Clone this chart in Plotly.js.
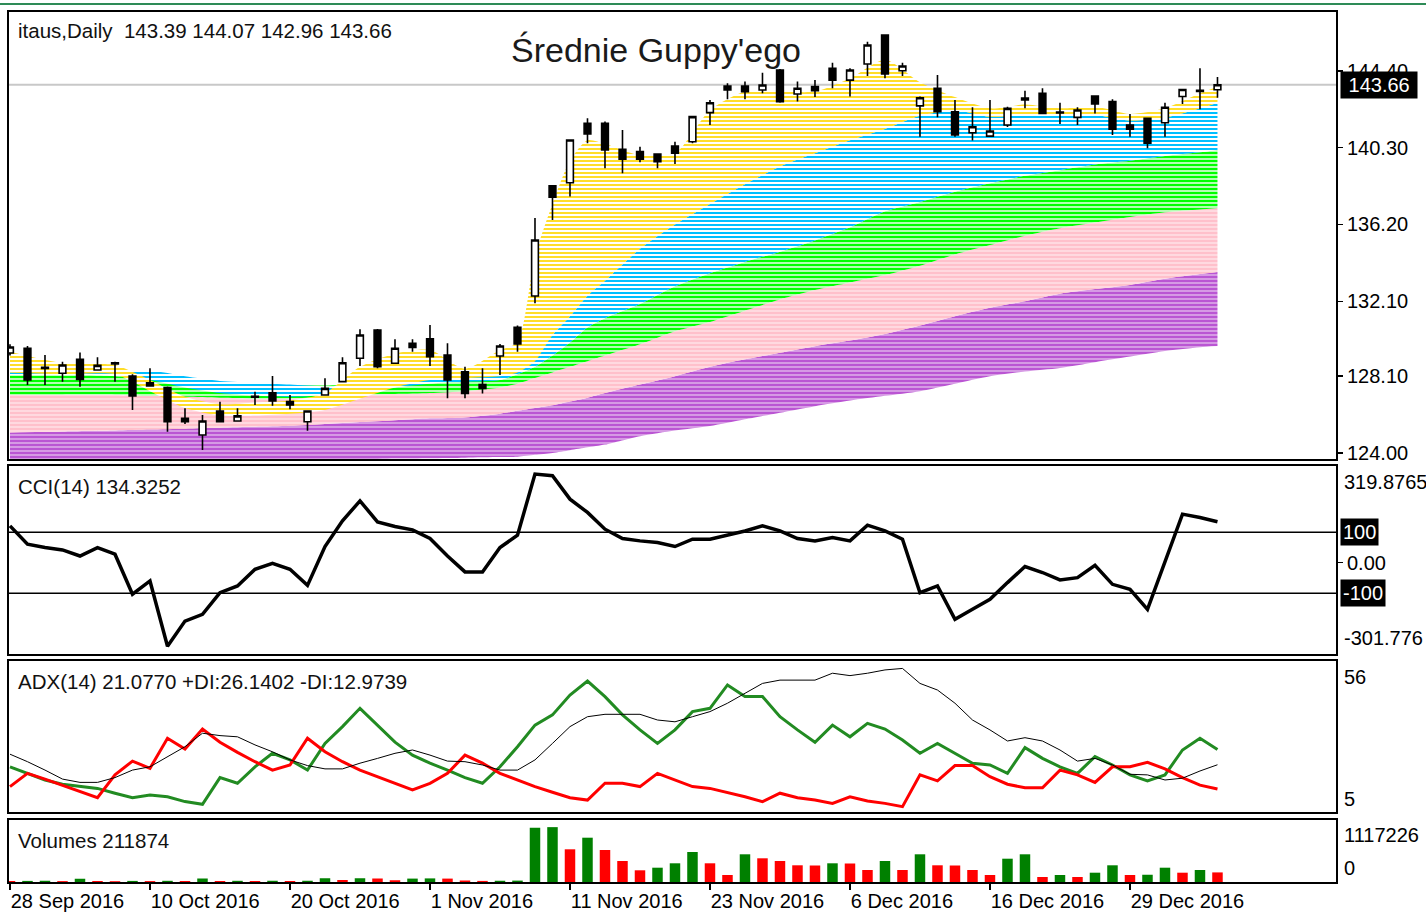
<!DOCTYPE html>
<html><head><meta charset="utf-8">
<script src="https://cdn.plot.ly/plotly-3.0.1.min.js"></script>
<style>html,body{margin:0;padding:0;background:#fff;} #chart{width:1426px;height:915px;}</style>
</head><body><div id="chart"></div>
<script>
const dates = ['2016-09-28','2016-09-29','2016-09-30','2016-10-03','2016-10-04','2016-10-05','2016-10-06','2016-10-07','2016-10-10','2016-10-11',
'2016-10-12','2016-10-13','2016-10-14','2016-10-17','2016-10-18','2016-10-19','2016-10-20','2016-10-21','2016-10-24','2016-10-25',
'2016-10-26','2016-10-27','2016-10-28','2016-10-31','2016-11-01','2016-11-02','2016-11-03','2016-11-04','2016-11-07','2016-11-08',
'2016-11-09','2016-11-10','2016-11-11','2016-11-14','2016-11-15','2016-11-16','2016-11-17','2016-11-18','2016-11-21','2016-11-22',
'2016-11-23','2016-11-25','2016-11-28','2016-11-29','2016-11-30','2016-12-01','2016-12-02','2016-12-05','2016-12-06','2016-12-07',
'2016-12-08','2016-12-09','2016-12-12','2016-12-13','2016-12-14','2016-12-15','2016-12-16','2016-12-19','2016-12-20','2016-12-21',
'2016-12-22','2016-12-23','2016-12-27','2016-12-28','2016-12-29','2016-12-30','2017-01-03','2017-01-04','2017-01-05','2017-01-06'];

const openP = [129.34,129.59,128.58,128.26,129.00,128.43,128.82,128.11,127.75,127.49,
125.85,124.96,126.24,125.71,127.02,127.22,126.74,125.67,127.10,127.81,
129.06,130.57,128.79,129.86,130.09,129.23,128.34,127.65,129.18,130.71,
132.38,138.26,138.43,141.60,141.60,140.21,140.09,139.96,140.39,140.62,
142.17,143.59,143.59,143.38,144.45,143.17,143.56,144.54,143.91,144.77,
146.32,144.41,142.53,143.47,142.22,141.10,140.92,141.51,142.95,143.20,
142.20,141.92,143.06,142.76,141.51,141.87,141.63,143.03,143.30,143.39];
const highP = [129.80,129.71,129.23,128.87,129.36,129.11,128.87,128.20,128.52,127.55,
126.39,126.03,126.74,126.39,127.27,128.11,127.10,126.26,127.99,129.11,
130.60,130.62,130.07,130.07,130.83,129.86,128.61,128.52,129.82,130.80,
136.55,138.30,140.75,141.87,141.70,141.24,140.35,140.00,140.62,141.98,
142.85,143.74,143.83,144.30,144.50,143.83,143.91,144.84,144.54,145.96,
146.35,144.84,143.03,144.18,142.85,142.46,142.85,142.49,143.34,143.47,
142.70,142.46,143.10,142.89,142.10,141.90,142.70,143.45,144.54,144.07];
const lowP = [129.20,127.63,127.63,127.81,127.54,128.40,127.81,126.30,127.55,125.14,
125.55,124.16,125.64,125.68,126.56,126.52,126.33,125.19,127.08,127.78,
128.64,128.52,128.76,129.41,128.64,126.92,126.92,127.18,128.16,129.41,
131.99,136.44,137.69,140.54,139.20,138.93,139.52,139.20,139.43,140.54,
141.51,142.89,142.89,143.20,142.70,142.76,143.00,143.47,143.03,144.13,
144.01,144.13,140.89,141.92,140.89,140.68,140.90,141.40,142.40,142.10,
141.57,141.51,142.13,140.98,140.89,140.27,140.89,142.63,142.35,142.96];
const closeP = [129.66,127.90,128.52,128.70,127.93,128.68,128.76,127.04,127.58,125.67,
125.67,125.71,125.67,125.98,126.98,126.78,126.56,126.24,127.45,128.82,
130.30,128.61,129.59,129.64,129.14,127.90,127.18,127.45,129.71,129.82,
135.37,137.65,140.71,141.03,140.18,139.68,139.68,139.55,140.00,141.96,
142.70,143.38,143.29,143.65,142.76,143.47,143.34,143.91,144.45,145.78,
144.24,144.66,142.97,142.22,140.98,141.42,141.19,142.40,142.85,142.13,
142.15,142.31,142.63,141.29,141.29,140.54,142.46,143.41,143.36,143.66];

const volume = [40000,42000,45000,38000,85000,40000,36000,42000,38000,44000,
40000,90000,40000,44000,40000,45000,40000,45000,95000,60000,
95000,90000,55000,88000,92000,88000,50000,42000,45000,48000,
1105000,1117226,674000,906000,660000,440000,254000,306000,394000,620000,
394000,160000,574000,494000,440000,354000,350000,394000,390000,260000,
440000,260000,574000,354000,350000,260000,160000,486000,574000,120000,
160000,120000,206000,354000,160000,165000,306000,206000,260000,211874];

const cci = [120.6,60.6,49.6,42,22,49.6,27.8,-103,-59.6,-273,
-191,-169,-98,-76,-21.4,-1.7,-21.4,-74,53,137,
202.5,133.7,118.6,107.5,79.2,22.2,-30,-30,49.6,90,
290,284.6,208,164.5,109.8,79.3,71.5,66,53,77,
77,90,104,120.6,104,79,71.5,82.5,71.5,123,
104,77,-98,-76,-185,-152.5,-119.8,-65,-12.6,-32,
-56.3,-48.7,-8.3,-70.6,-87,-152.5,0.5,159,148,134.3252];

const adx = [24.6,22.1,19.3,16.3,15.2,15.2,16.8,19.3,20.4,23.8,
27.1,31.6,30.8,30.4,27.7,25.4,22.7,20.8,19.7,19.7,
21.6,23.2,24.9,26,24.3,22.3,22.1,21,19.3,19.3,
22.7,28.2,33.8,37.1,37.9,37.9,37.9,36,35.4,37.1,
38.8,41.6,44.9,48.2,49.3,49.3,49.3,51.6,50.8,51.6,
52.7,53.2,48.2,46,41.6,36,32.7,29,30.1,29,
26,22.3,23.2,21,17.9,17.7,16,16.6,19,21.077];
const plusDI = [20.4,18.2,16,14.6,13.8,13.2,11.6,10.1,11,10.4,
8.8,7.9,16.8,14.9,20.4,24.9,22.7,19.3,28.2,33.8,
39.9,34.3,28.6,24.3,21.6,19.3,16.8,14.9,20.4,27.1,
34.3,37.7,44.3,49,43.8,37.7,32.7,28.2,32.7,38.8,
39.9,47.7,43.8,43.8,37.1,32.7,28.6,34.3,30.4,34.9,
33,29.3,24.9,28.2,24.9,21.6,21,18.2,26.8,23.2,
20.4,18.2,23.8,21,17.7,15.7,17.7,26,29.9,26.1402];
const minusDI = [13.8,18.2,16.3,14.3,12.1,10.1,17.7,22.3,19.9,29.9,
26.3,33,28.6,25.2,22.1,19.3,21,29.9,25.4,22.1,
19.3,17.1,14.9,12.7,14.9,18.2,24.3,21.6,18.2,16,
13.8,11.9,10.1,9.3,14.9,14.9,13.8,18.2,16,13.8,
13.2,11.9,10.4,8.8,11.6,10.1,9.3,8.2,10.4,9,
8.2,7.1,17.7,15.7,20.8,20.8,17.1,14.6,13.4,13.4,
19.3,17.7,15.2,20.4,20.4,21.9,19.7,16.8,14.3,12.9739];

// Guppy band edges read at sample days
const bandDates = ['2016-09-28','2016-10-03','2016-10-06','2016-10-10','2016-10-12','2016-10-14','2016-10-18','2016-10-20','2016-10-24','2016-10-26',
'2016-10-28','2016-11-01','2016-11-03','2016-11-07','2016-11-08','2016-11-09','2016-11-10','2016-11-11','2016-11-14','2016-11-15',
'2016-11-17','2016-11-21','2016-11-23','2016-11-28','2016-11-30','2016-12-02','2016-12-06','2016-12-08','2016-12-12','2016-12-14',
'2016-12-16','2016-12-20','2016-12-22','2016-12-27','2016-12-29','2017-01-03','2017-01-05','2017-01-06'];
const goldUpper = [129.4,128.8,128.7,127.9,127.0,126.6,126.7,126.8,127.2,128.6,129.3,129.5,128.5,129.5,129.9,134.5,137.3,139.6,140.7,140.5,139.9,140.0,142.3,143.3,143.3,143.3,144.0,145.0,143.8,143.0,142.4,142.6,142.4,142.5,142.1,142.4,143.2,143.55];
const goldLower = [128.3,128.2,128.2,127.3,126.4,126.0,126.0,126.1,126.3,126.9,127.5,127.9,128.0,128.1,128.3,128.9,130.3,131.3,132.4,133.2,134.9,136.2,137.3,138.35,139.3,140.0,140.7,141.3,142.0,142.3,141.95,142.05,142.0,142.05,141.75,141.9,142.4,142.7];
const blueUpper = [128.3,128.25,128.3,128.4,128.1,127.85,127.75,127.65,127.55,127.6,127.8,128.0,128.1,128.2,128.4,129.2,130.3,131.3,132.4,133.2,134.9,136.2,137.3,138.35,139.3,140.0,140.7,141.3,142.0,142.3,141.95,142.05,142.0,142.05,141.75,141.9,142.4,142.7];
const blueLower = [128.15,128.15,128.15,127.9,127.5,127.2,127.05,127.0,127.1,127.3,127.5,127.7,127.8,127.9,128.2,128.6,129.2,129.9,130.7,131.2,131.95,132.9,133.6,134.2,134.75,135.35,136.05,136.9,137.4,137.95,138.4,138.8,139.1,139.4,139.6,139.85,140.05,140.18];
const greenUpper = [128.2,128.2,128.1,128.0,127.8,127.65,127.6,127.6,127.6,127.65,127.7,127.8,127.85,127.9,128.2,128.6,129.2,129.9,130.7,131.2,131.95,132.9,133.6,134.2,134.75,135.35,136.05,136.9,137.4,137.95,138.4,138.8,139.1,139.4,139.6,139.85,140.05,140.18];
const greenLower = [127.1,127.1,127.1,127.05,127.0,126.95,126.9,126.9,127.0,127.1,127.15,127.2,127.3,127.5,127.7,128.0,128.3,128.6,128.9,129.2,129.8,130.5,131.0,131.6,132.2,132.7,133.1,133.5,134.0,134.6,135.1,135.6,136.0,136.3,136.6,136.85,137.0,137.08];
const pinkLower = [125.1,125.15,125.2,125.25,125.3,125.35,125.4,125.45,125.55,125.65,125.75,125.85,125.9,126.1,126.25,126.4,126.55,126.75,126.95,127.2,127.65,128.1,128.6,129.0,129.35,129.7,130.0,130.35,130.8,131.3,131.75,132.1,132.5,132.75,132.97,133.3,133.55,133.66];
const purpleLower = [123.2,123.25,123.3,123.35,123.4,123.45,123.5,123.55,123.6,123.65,123.7,123.72,123.75,123.78,123.8,123.9,124.0,124.15,124.3,124.45,124.9,125.2,125.44,125.8,126.15,126.5,126.8,127.05,127.3,127.7,128.1,128.35,128.54,128.85,129.15,129.45,129.65,129.71];

const tickDates = ['2016-09-28','2016-10-10','2016-10-20','2016-11-01','2016-11-11','2016-11-23','2016-12-06','2016-12-16','2016-12-29'];
const tickText = ['28 Sep 2016','10 Oct 2016','20 Oct 2016','1 Nov 2016','11 Nov 2016','23 Nov 2016','6 Dec 2016','16 Dec 2016','29 Dec 2016'];
const priceTicks = [124.00,128.10,132.10,136.20,140.30,144.40];
const priceRange = [123.626,147.598];
const cciRange = [-301.776,319.8765];
const cciLevels = [100,-100];
const adxRange = [5,56];
const volRange = [0,1280000];
const volMax = 1117226;

const FONT = 'Liberation Sans, Arial, sans-serif';
const n = dates.length;
const last = n-1;

const volColors = volume.map((v,i)=> (i>0 && v>volume[i-1]) ? '#008000' : '#FF0000');

function edge(y){ return {x:bandDates,y:y,type:'scatter',mode:'lines',line:{width:0,shape:'spline',smoothing:0.7,color:'rgba(0,0,0,0)'},hoverinfo:'skip',xaxis:'x',yaxis:'y'}; }
function band(y,color,sol){ const t=edge(y); t.fill='tonexty'; t.fillcolor=color; t.fillpattern={shape:'-',size:4,solidity:sol,fgcolor:color,bgcolor:'#ffffff'}; return t; }

const traces = [
  edge(purpleLower),
  band(pinkLower,'#BA55D3',0.8),
  band(greenLower,'#FFC0CB',0.8),
  band(greenUpper,'#00FF00',0.65),
  edge(blueLower),
  band(blueUpper,'#00BFFF',0.5),
  edge(goldLower),
  band(goldUpper,'#FFD700',0.42),
  {type:'candlestick',x:dates,open:openP,high:highP,low:lowP,close:closeP,xaxis:'x',yaxis:'y5',
   increasing:{line:{color:'#000',width:1.6},fillcolor:'#ffffff'},
   decreasing:{line:{color:'#000',width:1.6},fillcolor:'#000000'},hoverinfo:'skip'},
  {type:'scatter',mode:'lines',x:dates,y:cci,xaxis:'x',yaxis:'y2',line:{color:'#000',width:3.5},hoverinfo:'skip'},
  {type:'scatter',mode:'lines',x:dates,y:plusDI,xaxis:'x',yaxis:'y3',line:{color:'#228B22',width:3},hoverinfo:'skip'},
  {type:'scatter',mode:'lines',x:dates,y:minusDI,xaxis:'x',yaxis:'y3',line:{color:'#FF0000',width:3},hoverinfo:'skip'},
  {type:'scatter',mode:'lines',x:dates,y:adx,xaxis:'x',yaxis:'y3',line:{color:'#000',width:1},hoverinfo:'skip'},
  {type:'bar',x:dates,y:volume,xaxis:'x',yaxis:'y4',marker:{color:volColors,line:{width:0}},width:0.6,hoverinfo:'skip'}
];

const dom = {price:[0.4851,1],cci:[0.2615,0.4794],adx:[0.0803,0.2557],vol:[0,0.0734]};
const baseY = {side:'right',anchor:'x',showgrid:false,zeroline:false,showline:false,fixedrange:true,
  tickfont:{family:FONT,size:20,color:'#000'},ticks:'outside',ticklen:5,tickcolor:'#000',tickwidth:1.5};

const layout = {
  width:1426,height:915,
  margin:{l:8,r:89,t:11,b:32},
  paper_bgcolor:'#fff',plot_bgcolor:'#fff',
  showlegend:false,
  boxgap:0.45,
  font:{family:FONT,size:20,color:'#000'},
  title:{text:"Średnie Guppy'ego",font:{family:FONT,size:34,color:'#1a1a1a'},
         xref:'paper',x:0.4876,xanchor:'center',yref:'container',y:1-50/915,yanchor:'middle'},
  xaxis:{type:'category',categoryorder:'array',categoryarray:dates,range:[-0.114,75.83],anchor:'y4',
    rangeslider:{visible:false},
    tickvals:tickDates,ticktext:tickText,ticks:'outside',ticklen:6,tickwidth:1.5,tickcolor:'#000',
    ticklabelposition:'outside right',tickfont:{family:FONT,size:20,color:'#000'},
    showgrid:false,zeroline:false,showline:false},
  yaxis:Object.assign({},baseY,{domain:dom.price,range:priceRange,tickvals:priceTicks,ticktext:priceTicks.map(v=>v.toFixed(2))}),
  yaxis5:{overlaying:'y',range:priceRange,visible:false,fixedrange:true},
  yaxis2:Object.assign({},baseY,{domain:dom.cci,range:cciRange,tickvals:[0],ticktext:['0.00']}),
  yaxis3:Object.assign({},baseY,{domain:dom.adx,range:adxRange,tickvals:[],showticklabels:false}),
  yaxis4:Object.assign({},baseY,{domain:dom.vol,range:volRange,tickvals:[],showticklabels:false}),
  shapes:[
    {type:'line',xref:'x domain',x0:0,x1:1,yref:'y',y0:closeP[last],y1:closeP[last],line:{color:'#c8c8c8',width:2},layer:'below'},
    {type:'line',xref:'x domain',x0:0,x1:1,yref:'y2',y0:cciLevels[0],y1:cciLevels[0],line:{color:'#000',width:1.5},layer:'below'},
    {type:'line',xref:'x domain',x0:0,x1:1,yref:'y2',y0:cciLevels[1],y1:cciLevels[1],line:{color:'#000',width:1.5},layer:'below'},
    {type:'rect',xref:'paper',x0:0,x1:1,yref:'y domain',y0:0,y1:1,line:{color:'#000',width:2}},
    {type:'rect',xref:'paper',x0:0,x1:1,yref:'y2 domain',y0:0,y1:1,line:{color:'#000',width:2}},
    {type:'rect',xref:'paper',x0:0,x1:1,yref:'y3 domain',y0:0,y1:1,line:{color:'#000',width:2}},
    {type:'rect',xref:'paper',x0:0,x1:1,yref:'y4 domain',y0:0,y1:1,line:{color:'#000',width:2}},
    {type:'line',xref:'paper',x0:-8/1329,x1:1418/1329,yref:'paper',y0:879/872,y1:879/872,line:{color:'#2E8B57',width:2}}
  ],
  annotations:[]
};

const A = layout.annotations;
function leftText(text,ypix){ A.push({text:text,xref:'paper',x:8/1329,xanchor:'left',yref:'paper',y:(883-ypix)/872,yanchor:'middle',showarrow:false,font:{family:FONT,size:20.5,color:'#111'}}); }
leftText('itaus,Daily  '+openP[last].toFixed(2)+' '+highP[last].toFixed(2)+' '+lowP[last].toFixed(2)+' '+closeP[last].toFixed(2),30);
leftText('CCI(14) '+cci[last].toFixed(4),486);
leftText('ADX(14) '+adx[last].toFixed(4)+' +DI:'+plusDI[last].toFixed(4)+' -DI:'+minusDI[last].toFixed(4),681);
leftText('Volumes '+volume[last],840);

function rightText(text,ypix){ A.push({text:text,xref:'paper',x:1,xshift:5,xanchor:'left',yref:'paper',y:(883-ypix)/872,yanchor:'middle',showarrow:false,font:{family:FONT,size:20,color:'#000'}}); }
rightText(cciRange[1].toFixed(4),482);
rightText(cciRange[0].toFixed(3),638);
rightText(String(adxRange[1]),677);
rightText(String(adxRange[0]),799);
rightText(String(volMax),835);
rightText('0',868);

function boxLabel(text,yref,yv){ A.push({text:text,xref:'paper',x:1,xshift:3,xanchor:'left',yref:yref,y:yv,yanchor:'middle',showarrow:false,bgcolor:'#000',borderpad:2,font:{family:FONT,size:20,color:'#fff'}}); }
boxLabel(' '+closeP[last].toFixed(2)+' ','y',closeP[last]);
boxLabel(String(cciLevels[0]),'y2',cciLevels[0]);
boxLabel(String(cciLevels[1]),'y2',cciLevels[1]);

Plotly.newPlot('chart',traces,layout,{staticPlot:true,displayModeBar:false});
</script>
</body></html>
